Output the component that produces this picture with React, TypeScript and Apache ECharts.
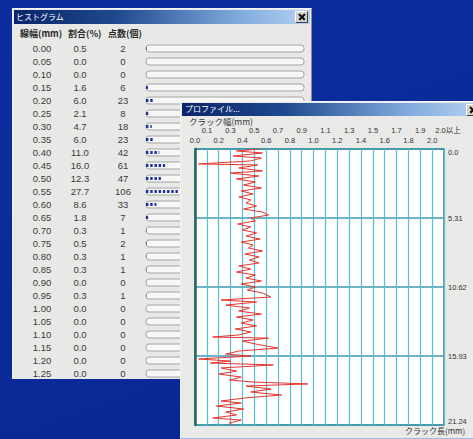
import React, { useEffect, useRef } from "react";
import * as echarts from "echarts";

// ---------- Histogram table data ----------
const lineWidthCats = [
  "0.00", "0.05", "0.10", "0.15", "0.20", "0.25", "0.30", "0.35", "0.40", "0.45",
  "0.50", "0.55", "0.60", "0.65", "0.70", "0.75", "0.80", "0.85", "0.90", "0.95",
  "1.00", "1.05", "1.10", "1.15", "1.20", "1.25",
];
const ratioPct = [
  0.5, 0.0, 0.0, 1.6, 6.0, 2.1, 4.7, 6.0, 11.0, 16.0,
  12.3, 27.7, 8.6, 1.8, 0.3, 0.5, 0.3, 0.3, 0.0, 0.3,
  0.0, 0.0, 0.0, 0.0, 0.0, 0.0,
];
const pointCounts = [
  2, 0, 0, 6, 23, 8, 18, 23, 42, 61,
  47, 106, 33, 7, 1, 2, 1, 1, 0, 1,
  0, 0, 0, 0, 0, 0,
];
const histHeaders = ["線幅(mm)", "割合(%)", "点数(個)"];
const histCountMax = 500;

// ---------- Profile data ----------
const crackWidthTicks = [
  "0.0", "0.1", "0.2", "0.3", "0.4", "0.5", "0.6", "0.7", "0.8", "0.9", "1.0",
  "1.1", "1.2", "1.3", "1.4", "1.5", "1.6", "1.7", "1.8", "1.9", "2.0", "2.0以上",
];
const depthTicks = ["0.0", "5.31", "10.62", "15.93", "21.24"];
const depthStep = 5.31;
const depthMax = 21.24;
const widthMax = 2.1;

// [crack width (mm), crack length position (mm)]
const profilePoints: [number, number][] = [
  [0.54, 0.0], [0.35, 0.15], [0.57, 0.31], [0.32, 0.54], [0.56, 0.69], [0.47, 0.92],
  [0.03, 1.15], [0.53, 1.23], [0.37, 1.46], [0.57, 1.69], [0.30, 1.85], [0.54, 2.08],
  [0.35, 2.31], [0.51, 2.54], [0.41, 2.77], [0.56, 3.0], [0.39, 3.23], [0.49, 3.46],
  [0.37, 3.69], [0.47, 3.92], [0.43, 4.16], [0.52, 4.39], [0.41, 4.62], [0.57, 4.85],
  [0.62, 5.08], [0.47, 5.31], [0.51, 5.54], [0.36, 5.77], [0.47, 6.0], [0.40, 6.23],
  [0.52, 6.46], [0.43, 6.7], [0.55, 6.93], [0.39, 7.16], [0.49, 7.39], [0.45, 7.62],
  [0.57, 7.85], [0.42, 8.08], [0.54, 8.31], [0.46, 8.54], [0.54, 8.77], [0.37, 9.0],
  [0.47, 9.24], [0.35, 9.47], [0.51, 9.7], [0.43, 9.93], [0.56, 10.16], [0.39, 10.39],
  [0.51, 10.62], [0.44, 10.85], [0.57, 11.08], [0.64, 11.39], [0.22, 11.62], [0.52, 11.78],
  [0.26, 12.01], [0.46, 12.24], [0.37, 12.47], [0.56, 12.7], [0.35, 12.93], [0.49, 13.16],
  [0.39, 13.39], [0.52, 13.62], [0.34, 13.85], [0.47, 14.08], [0.37, 14.31], [0.15, 14.47],
  [0.62, 14.55], [0.40, 14.78], [0.51, 15.01], [0.70, 15.32], [0.37, 15.55], [0.26, 15.78],
  [0.47, 15.93], [0.03, 16.16], [0.30, 16.32], [0.13, 16.47], [0.66, 16.62], [0.22, 16.85],
  [0.35, 17.09], [0.20, 17.32], [0.39, 17.55], [0.29, 17.78], [0.49, 17.93], [0.95, 18.08],
  [0.43, 18.24], [0.64, 18.47], [0.47, 18.7], [0.73, 18.93], [0.42, 19.16], [0.22, 19.39],
  [0.39, 19.55], [0.18, 19.78], [0.41, 20.01], [0.26, 20.24], [0.35, 20.47], [0.15, 20.7],
  [0.39, 20.86], [0.29, 21.09], [0.32, 21.24],
];

const FONT_JP = '"Noto Sans CJK JP", "Noto Sans", sans-serif';
const FONT_NUM = '"Liberation Sans", Arial, "Noto Sans CJK JP", sans-serif';

const ROW_STEP = 13.0;
const ROW0_CENTER = 39.5; // relative to histogram window

function histOption(): any {
  const txt = { fontSize: 9.5, color: "#3a3a3a", fontFamily: FONT_NUM };
  const head = { fontSize: 9, fontWeight: "bold", fill: "#2a2a2a", fontFamily: FONT_JP };
  return {
    animation: false,
    title: {
      text: "ヒストグラム",
      left: 3,
      top: 3,
      padding: 0,
      textStyle: { color: "#ffffff", fontSize: 8, fontWeight: "normal", fontFamily: FONT_JP },
    },
    graphic: [
      { type: "text", left: 7, top: 20, style: { text: histHeaders[0], ...head } },
      { type: "text", left: 55, top: 20, style: { text: histHeaders[1], ...head } },
      { type: "text", left: 95, top: 20, style: { text: histHeaders[2], ...head } },
    ],
    grid: {
      left: 133,
      top: ROW0_CENTER - ROW_STEP / 2,
      width: 158,
      height: ROW_STEP * lineWidthCats.length,
    },
    xAxis: { type: "value", min: 0, max: histCountMax, show: false },
    yAxis: {
      type: "category",
      inverse: true,
      data: lineWidthCats,
      axisLine: { show: false },
      axisTick: { show: false },
      splitLine: { show: false },
      axisLabel: {
        interval: 0,
        margin: 122,
        align: "left",
        formatter: (v: string, i: number) =>
          `{w|${v}}{p|${ratioPct[i].toFixed(1)}}{c|${pointCounts[i]}}`,
        rich: {
          w: { ...txt, width: 36, align: "center" },
          p: { ...txt, width: 40, align: "center" },
          c: { ...txt, width: 40, align: "left", padding: [0, 0, 0, 3] },
        },
      },
    },
    series: [
      {
        type: "bar",
        data: pointCounts,
        barWidth: 7,
        silent: true,
        itemStyle: { color: "rgba(0,0,0,0)" },
        showBackground: true,
        backgroundStyle: { color: "#f7f7f6", borderColor: "#a4a4a4", borderWidth: 1, borderRadius: 3 },
      },
      {
        type: "pictorialBar",
        data: pointCounts,
        symbol: "rect",
        symbolSize: [2.5, 3],
        symbolRepeat: "fixed",
        symbolMargin: 0.9,
        symbolClip: true,
        symbolBoundingData: histCountMax,
        symbolPosition: "start",
        itemStyle: { color: "#1c2f9e" },
        z: 4,
      },
    ],
  };
}

function profileOption(): any {
  const tick = { fontSize: 7.5, color: "#333", fontFamily: FONT_NUM };
  const xBase = {
    type: "value",
    position: "top",
    min: 0,
    max: widthMax,
    interval: 0.1,
    axisLine: { show: false },
    axisTick: { show: false },
  };
  return {
    animation: false,
    title: {
      text: "プロファイル...",
      left: 4,
      top: 2,
      padding: 0,
      textStyle: { color: "#ffffff", fontSize: 8, fontWeight: "normal", fontFamily: FONT_JP },
    },
    graphic: [
      { type: "text", left: 8, top: 15, style: { text: "クラック幅(mm)", fontSize: 8.5, fill: "#333", fontFamily: FONT_JP } },
      { type: "text", left: 224, top: 324, style: { text: "クラック長(mm)", fontSize: 8, fill: "#333", fontFamily: FONT_JP } },
    ],
    grid: {
      left: 14,
      top: 47,
      width: 249,
      height: 276,
      show: true,
      backgroundColor: "#ffffff",
      borderColor: "#3d7f7a",
      borderWidth: 1.5,
    },
    xAxis: [
      {
        ...xBase,
        splitLine: { show: true, lineStyle: { color: "#5bbcd9", width: 1.2 } },
        axisLabel: {
          ...tick,
          margin: 5,
          showMinLabel: true,
          showMaxLabel: true,
          formatter: (v: number) => {
            const i = Math.round(v * 10);
            return i % 2 === 0 ? crackWidthTicks[i] ?? "" : "";
          },
        },
      },
      {
        ...xBase,
        splitLine: { show: false },
        axisLabel: {
          ...tick,
          margin: 15,
          showMinLabel: true,
          showMaxLabel: true,
          formatter: (v: number) => {
            const i = Math.round(v * 10);
            if (i % 2 !== 1) return "";
            const t = crackWidthTicks[i] ?? "";
            return i === crackWidthTicks.length - 1 ? `{e|${t}}` : t;
          },
          rich: { e: { ...tick, padding: [0, 0, 0, 8] } },
        },
      },
    ],
    yAxis: [
      {
        type: "value",
        position: "right",
        inverse: true,
        min: 0,
        max: depthMax,
        interval: depthStep,
        axisLine: { show: false },
        axisTick: { show: false },
        splitLine: { show: true, lineStyle: { color: "#3b9ab2", width: 1.5 } },
        axisLabel: {
          margin: 4,
          showMinLabel: true,
          showMaxLabel: true,
          formatter: (v: number) => {
            const i = Math.round(v / depthStep);
            const t = depthTicks[i] ?? "";
            if (i === 0) return `{top|${t}}`;
            if (i === depthTicks.length - 1) return `{bot|${t}}`;
            return `{mid|${t}}`;
          },
          rich: {
            top: { ...tick, padding: [6, 0, 0, 0] },
            mid: { ...tick },
            bot: { ...tick, padding: [0, 0, 8, 0] },
          },
        },
      },
      {
        type: "value",
        position: "left",
        min: 0,
        max: depthMax,
        axisLine: { show: true, lineStyle: { color: "#27665f", width: 2.5 } },
        axisTick: { show: false },
        axisLabel: { show: false },
        splitLine: { show: false },
      },
    ],
    series: [
      {
        type: "line",
        data: profilePoints,
        xAxisIndex: 0,
        yAxisIndex: 0,
        showSymbol: false,
        symbol: "none",
        lineStyle: { color: "#e8342c", width: 1 },
        itemStyle: { color: "#e8342c" },
        z: 5,
      },
    ],
  };
}

const titleGrad = "linear-gradient(to right, #0a246a 0%, #1f4a8f 35%, #7fa9dc 75%, #b4d2f2 100%)";

function CloseBox(props: { style: React.CSSProperties }) {
  const bar: React.CSSProperties = {
    position: "absolute",
    left: 1.5,
    top: 4,
    width: 8,
    height: 1.6,
    background: "#000",
  };
  return (
    <div
      style={{
        position: "absolute",
        width: 11,
        height: 10,
        background: "#d4d0c8",
        borderTop: "1px solid #ffffff",
        borderLeft: "1px solid #ffffff",
        borderRight: "1px solid #404040",
        borderBottom: "1px solid #404040",
        ...props.style,
      }}
    >
      <div style={{ ...bar, transform: "rotate(45deg)" }} />
      <div style={{ ...bar, transform: "rotate(-45deg)" }} />
    </div>
  );
}

export default function App() {
  const histRef = useRef<HTMLDivElement>(null);
  const profRef = useRef<HTMLDivElement>(null);

  useEffect(() => {
    const h = echarts.init(histRef.current!, undefined, { renderer: "svg" });
    h.setOption(histOption());
    const p = echarts.init(profRef.current!, undefined, { renderer: "svg" });
    p.setOption(profileOption());
    return () => {
      h.dispose();
      p.dispose();
    };
  }, []);

  return (
    <div
      style={{
        position: "absolute",
        left: 0,
        top: 0,
        width: 473,
        height: 439,
        overflow: "hidden",
        background: "linear-gradient(160deg, #0b2d9e 0%, #0a2a98 60%, #092692 100%)",
      }}
    >
      {/* Histogram window */}
      <div
        style={{
          position: "absolute",
          left: 12,
          top: 8,
          width: 300,
          height: 371,
          overflow: "hidden",
          background: "#e8e8e6",
          borderTop: "1px solid #f2f2f2",
          borderLeft: "1px solid #f2f2f2",
          borderRight: "1px solid #8e8e8e",
          boxSizing: "border-box",
        }}
      >
        <div style={{ position: "absolute", left: 1, top: 1, right: 1, height: 14, background: titleGrad }} />
        <CloseBox style={{ right: 3, top: 2 }} />
        <div ref={histRef} style={{ position: "absolute", left: 0, top: 0, width: 300, height: 390 }} />
      </div>

      {/* Profile window */}
      <div
        style={{
          position: "absolute",
          left: 180,
          top: 101,
          width: 300,
          height: 338,
          overflow: "hidden",
          background: "#e9e9e7",
          borderTop: "1px solid #f4f4f4",
          borderLeft: "1px solid #f4f4f4",
          borderBottom: "1px solid #9fb9e2",
          boxSizing: "border-box",
        }}
      >
        <div style={{ position: "absolute", left: 1, top: 1, right: 1, height: 13, background: titleGrad }} />
        <CloseBox style={{ left: 285, top: 2 }} />
        <div ref={profRef} style={{ position: "absolute", left: 0, top: 0, width: 300, height: 336 }} />
      </div>
    </div>
  );
}
